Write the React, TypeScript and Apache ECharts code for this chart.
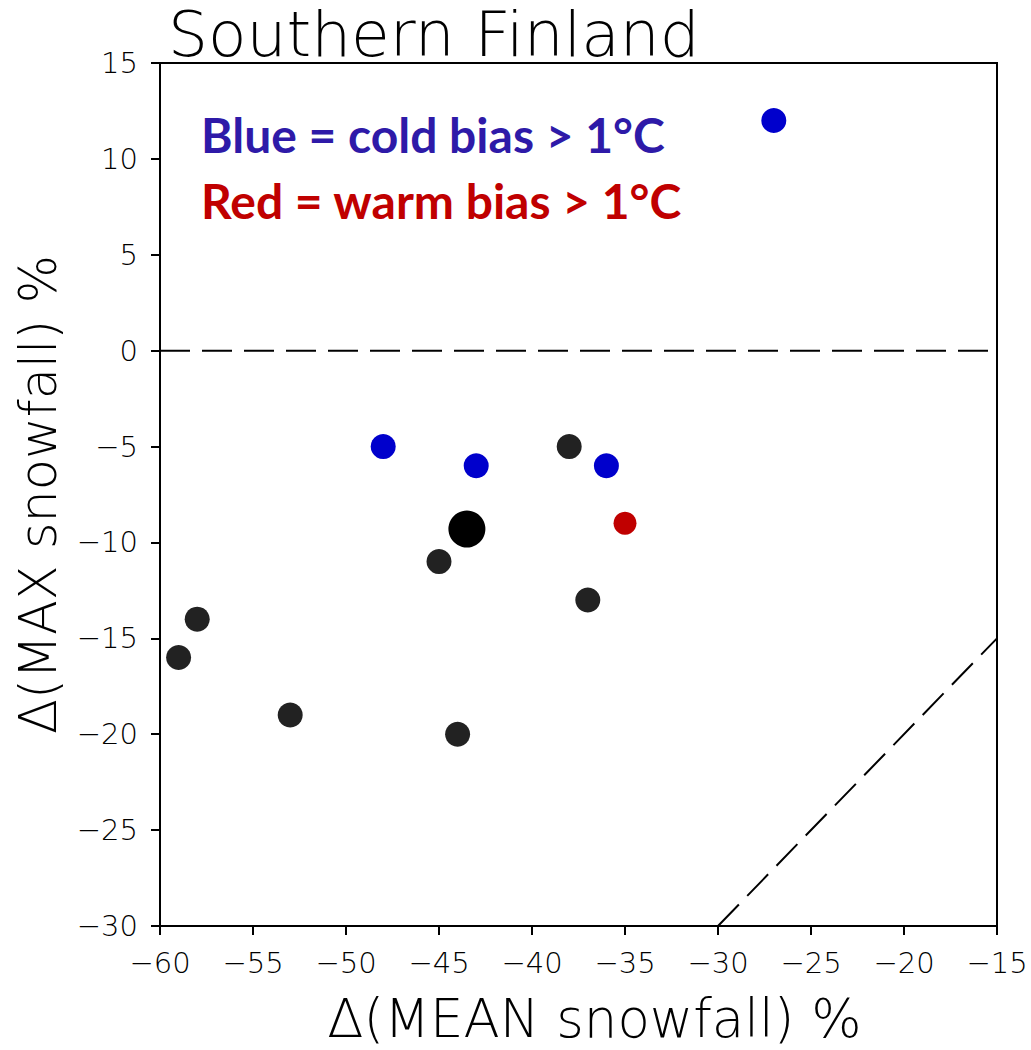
import React, { useEffect, useRef } from "react";
import * as echarts from "echarts";

const blackPts: number[][] = [
  [-38, -5], [-45, -11], [-37, -13], [-58, -14], [-59, -16], [-53, -19], [-44, -20],
];
const meanPt: number[][] = [[-43.5, -9.3]];
const bluePts: number[][] = [[-27, 12], [-48, -5], [-43, -6], [-36, -6]];
const redPts: number[][] = [[-35, -9]];
const zeroLine: number[][] = [[-60, 0], [-15, 0]];
const oneToOne: number[][] = [[-30, -30], [-15, -15]];

const xMin = -60, xMax = -15, yMin = -30, yMax = 15, step = 5;
const titleText = "Southern Finland";
const xName = "Δ(MEAN snowfall) %";
const yName = "Δ(MAX snowfall) %";
const legendBlue = "Blue = cold bias > 1°C";
const legendRed = "Red = warm bias > 1°C";

const thinFont = "'DejaVu Sans', sans-serif";
const boldFont = "Lato, 'Open Sans', sans-serif";
const fmt = (v: number) => String(v).replace("-", "\u2212");

const W = 1031, H = 1050;

export default function App() {
  const ref = useRef<HTMLDivElement>(null);
  useEffect(() => {
    if (!ref.current) return;
    const chart = echarts.init(ref.current, undefined, { renderer: "svg", width: W, height: H });
    const dash = { color: "#000", width: 2, type: [30, 12] as any };
    const axisLineStyle = { color: "#000", width: 2 };
    chart.setOption({
      animation: false,
      backgroundColor: "#fff",
      title: {
        text: titleText,
        left: 168,
        top: 6,
        padding: 0,
        textStyle: { fontFamily: thinFont, fontWeight: 200, fontSize: 63, lineHeight: 56, color: "#000" },
      },
      graphic: [
        {
          type: "text",
          left: 201,
          top: 110,
          style: { text: legendBlue, fill: "#2E1AA8", font: `bold 48px ${boldFont}` },
        },
        {
          type: "text",
          left: 201,
          top: 176,
          style: { text: legendRed, fill: "#C00000", font: `bold 48px ${boldFont}` },
        },
      ],
      grid: {
        left: 160,
        right: 34,
        top: 63,
        bottom: 122,
        show: true,
        borderColor: "#000",
        borderWidth: 2,
        containLabel: false,
      },
      xAxis: {
        type: "value",
        min: xMin,
        max: xMax,
        interval: step,
        name: xName,
        nameLocation: "middle",
        nameGap: 66,
        nameTextStyle: { fontFamily: thinFont, fontWeight: 200, fontSize: 53, color: "#000", padding: [0, 0, 0, 32] },
        axisLine: { show: true, onZero: false, lineStyle: axisLineStyle },
        axisTick: { show: true, inside: false, length: 9, lineStyle: axisLineStyle },
        axisLabel: { formatter: fmt, margin: 22, fontFamily: thinFont, fontWeight: 200, fontSize: 29, color: "#000" },
        splitLine: { show: false },
      },
      yAxis: {
        type: "value",
        min: yMin,
        max: yMax,
        interval: step,
        name: yName,
        nameLocation: "middle",
        nameRotate: 90,
        nameGap: 96,
        nameTextStyle: { fontFamily: thinFont, fontWeight: 200, fontSize: 51, color: "#000" },
        axisLine: { show: true, onZero: false, lineStyle: axisLineStyle },
        axisTick: { show: true, inside: false, length: 9, lineStyle: axisLineStyle },
        axisLabel: { formatter: fmt, margin: 22, fontFamily: thinFont, fontWeight: 200, fontSize: 29, color: "#000" },
        splitLine: { show: false },
      },
      series: [
        { type: "line", data: zeroLine, symbol: "none", lineStyle: dash, silent: true },
        { type: "line", data: oneToOne, symbol: "none", lineStyle: dash, silent: true },
        { type: "scatter", data: blackPts, symbolSize: 25, itemStyle: { color: "#222", opacity: 1 } },
        { type: "scatter", data: meanPt, symbolSize: 37, itemStyle: { color: "#000", opacity: 1 } },
        { type: "scatter", data: bluePts, symbolSize: 25, itemStyle: { color: "#0000CC", opacity: 1 } },
        { type: "scatter", data: redPts, symbolSize: 23, itemStyle: { color: "#C00000", opacity: 1 } },
      ],
    });
    return () => chart.dispose();
  }, []);
  return <div ref={ref} style={{ width: W, height: H, position: "absolute", left: 0, top: 0 }} />;
}
